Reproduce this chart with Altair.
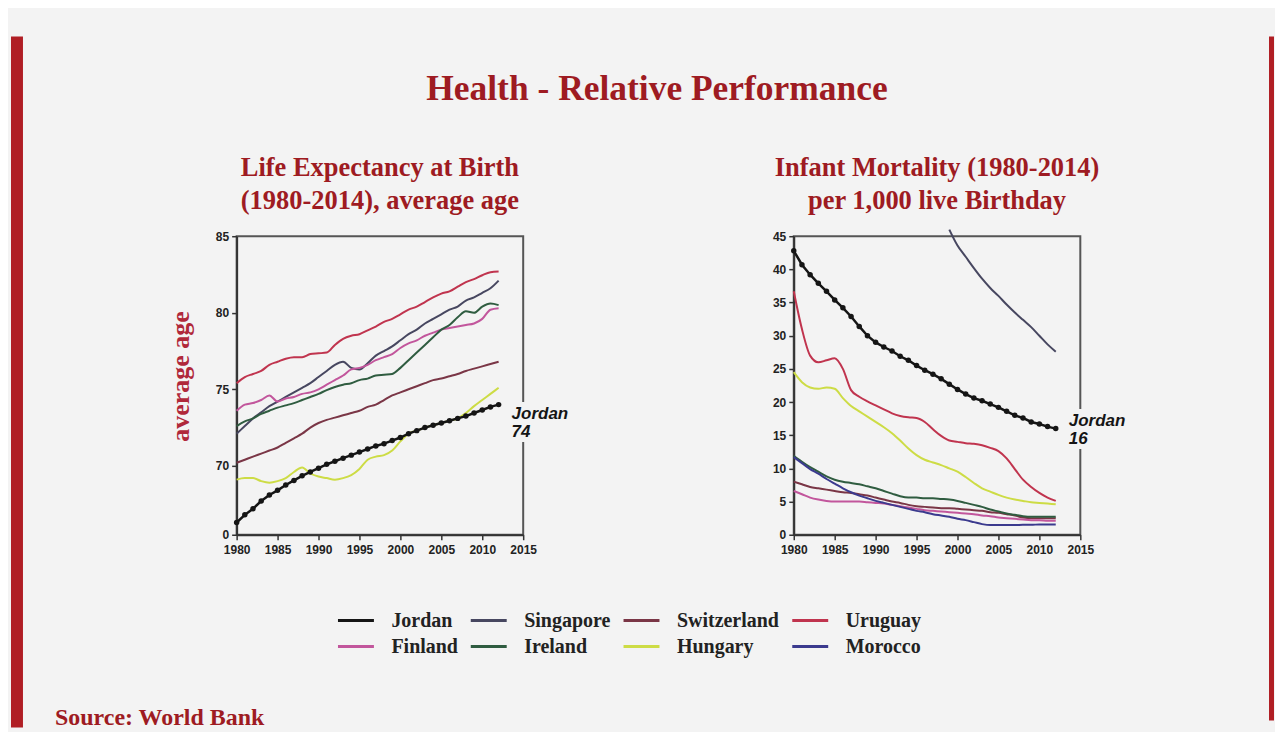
import altair as alt
import pandas as pd

# ---------------------------------------------------------------- data
years = list(range(1980, 2013))

# Lines are named by the legend colour in which they are drawn in the picture.
# Life expectancy at birth (left panel)
life_jordan = [66.3, 66.8, 67.2, 67.7, 68.1, 68.4, 68.75, 69.05, 69.35, 69.6, 69.85, 70.1, 70.3,
               70.5, 70.7, 70.9, 71.1, 71.3, 71.45, 71.65, 71.85, 72.1, 72.3, 72.5, 72.65, 72.8,
               72.95, 73.1, 73.25, 73.45, 73.65, 73.85, 74.0]
life_uruguay = [75.4, 75.8, 76.0, 76.2, 76.6, 76.8, 77.0, 77.1, 77.1, 77.3, 77.35, 77.4, 77.9,
                78.3, 78.5, 78.6, 78.85, 79.1, 79.4, 79.6, 79.9, 80.2, 80.4, 80.7, 81.0, 81.25,
                81.4, 81.7, 82.0, 82.2, 82.45, 82.65, 82.7]
life_singapore = [72.1, 72.6, 73.1, 73.5, 73.9, 74.2, 74.5, 74.8, 75.1, 75.4, 75.8, 76.2, 76.6,
                  76.8, 76.4, 76.3, 76.7, 77.2, 77.5, 77.8, 78.2, 78.6, 78.9, 79.3, 79.6, 79.9,
                  80.2, 80.4, 80.8, 81.0, 81.3, 81.6, 82.1]
life_finland = [73.6, 74.0, 74.1, 74.3, 74.6, 74.2, 74.4, 74.5, 74.7, 74.8, 75.0, 75.3, 75.6,
                75.9, 76.3, 76.4, 76.6, 76.9, 77.1, 77.3, 77.7, 78.0, 78.2, 78.5, 78.7, 78.9,
                79.0, 79.1, 79.2, 79.3, 79.6, 80.2, 80.3]
life_ireland = [72.6, 72.9, 73.1, 73.4, 73.6, 73.8, 73.95, 74.1, 74.3, 74.5, 74.7, 74.95, 75.15,
                75.3, 75.4, 75.6, 75.7, 75.9, 75.95, 76.0, 76.4, 76.9, 77.4, 77.9, 78.4, 78.9,
                79.2, 79.7, 80.1, 80.0, 80.4, 80.6, 80.5]
life_switzerland = [70.2, 70.4, 70.6, 70.8, 71.0, 71.2, 71.5, 71.8, 72.1, 72.5, 72.8, 73.0, 73.15,
                    73.3, 73.45, 73.6, 73.85, 74.0, 74.3, 74.6, 74.8, 75.0, 75.2, 75.4, 75.6,
                    75.7, 75.85, 76.0, 76.2, 76.35, 76.5, 76.65, 76.8]
# 2001-2007 runs underneath the Jordan line in the picture
life_hungary = [69.1, 69.2, 69.2, 69.0, 68.9, 69.0, 69.2, 69.6, 69.9, 69.5, 69.3, 69.2, 69.1,
                69.2, 69.4, 69.8, 70.4, 70.6, 70.7, 71.0, 71.6, 72.1, 72.3, 72.5, 72.65, 72.8,
                72.95, 73.1, 73.45, 73.9, 74.3, 74.7, 75.1]

# Infant mortality per 1,000 (right panel)
imr_jordan = [42.8, 40.7, 39.2, 37.9, 36.7, 35.4, 34.2, 32.9, 31.4, 30.0, 29.0, 28.3, 27.7,
              26.9, 26.3, 25.5, 24.8, 24.2, 23.5, 22.7, 21.9, 21.2, 20.6, 20.2, 19.7, 19.2,
              18.6, 18.0, 17.6, 17.0, 16.7, 16.3, 16.0]
imr_uruguay = [36.7, 31.0, 27.0, 26.0, 26.3, 26.6, 25.0, 21.8, 20.8, 20.1, 19.5, 18.9, 18.3,
               17.9, 17.7, 17.6, 17.0, 15.9, 14.9, 14.2, 14.0, 13.8, 13.7, 13.5, 13.1, 12.6,
               11.5, 9.9, 8.3, 7.2, 6.3, 5.6, 5.1]
imr_hungary = [24.5, 23.0, 22.2, 22.0, 22.2, 22.0, 20.6, 19.4, 18.6, 17.8, 17.0, 16.2, 15.3,
               14.2, 13.0, 12.0, 11.3, 10.9, 10.5, 10.0, 9.5, 8.7, 7.8, 7.0, 6.5, 6.0, 5.6,
               5.3, 5.1, 4.9, 4.8, 4.7, 4.6]
imr_ireland = [11.9, 11.0, 10.2, 9.5, 8.8, 8.3, 8.0, 7.8, 7.6, 7.3, 7.0, 6.6, 6.2, 5.8, 5.6,
               5.6, 5.5, 5.5, 5.4, 5.3, 5.1, 4.8, 4.5, 4.2, 3.8, 3.5, 3.2, 3.0, 2.8, 2.7, 2.7,
               2.7, 2.7]
imr_morocco = [11.7, 10.8, 9.9, 9.2, 8.4, 7.7, 7.0, 6.4, 5.9, 5.5, 5.1, 4.8, 4.5, 4.2, 3.9,
               3.6, 3.4, 3.1, 2.9, 2.7, 2.4, 2.2, 1.9, 1.6, 1.45, 1.45, 1.45, 1.45, 1.5, 1.5,
               1.55, 1.55, 1.55]
imr_switzerland = [8.0, 7.6, 7.2, 7.0, 6.8, 6.6, 6.4, 6.3, 6.1, 5.9, 5.6, 5.3, 5.0, 4.8, 4.5,
                   4.3, 4.2, 4.1, 4.0, 4.0, 3.9, 3.8, 3.7, 3.6, 3.4, 3.3, 3.1, 2.9, 2.6, 2.5,
                   2.5, 2.5, 2.5]
imr_finland = [6.6, 6.1, 5.6, 5.3, 5.1, 5.0, 5.0, 5.0, 5.0, 4.9, 4.8, 4.7, 4.5, 4.3, 4.1, 3.9,
               3.7, 3.6, 3.5, 3.4, 3.3, 3.2, 3.1, 2.9, 2.8, 2.6, 2.5, 2.4, 2.3, 2.2, 2.2, 2.1, 2.1]
imr_singapore_years = list(range(1999, 2013))
imr_singapore = [46.0, 43.6, 41.9, 40.2, 38.6, 37.2, 36.0, 34.7, 33.5, 32.4, 31.3, 30.0, 28.7, 27.6]

legend_names = ["Jordan", "Singapore", "Switzerland", "Uruguay",
                "Finland", "Ireland", "Hungary", "Morocco"]
legend_colors = ["#151515", "#474760", "#7a3646", "#c0344e",
                 "#c2569c", "#2f5c40", "#cddc45", "#3b3a8e"]

x_ticks = [1980, 1985, 1990, 1995, 2000, 2005, 2010, 2015]
life_ticks = [65.5, 70, 75, 80, 85]
imr_ticks = [0, 5, 10, 15, 20, 25, 30, 35, 40, 45]

main_title = "Health - Relative Performance"
left_title = ["Life Expectancy at Birth", "(1980-2014), average age"]
right_title = ["Infant Mortality (1980-2014)", "per 1,000 live Birthday"]
left_axis_title = "average age"
source_text = "Source: World Bank"

# ---------------------------------------------------------------- frames
def long_frame(series):
    rows = []
    for name, (xs, vals) in series.items():
        for x, v in zip(xs, vals):
            rows.append({"country": name, "year": x, "value": v})
    return pd.DataFrame(rows)

life_df = long_frame({
    "Uruguay": (years, life_uruguay),
    "Singapore": (years, life_singapore),
    "Finland": (years, life_finland),
    "Ireland": (years, life_ireland),
    "Switzerland": (years, life_switzerland),
    "Hungary": (years, life_hungary),
})
life_jordan_df = long_frame({"Jordan": (years, life_jordan)})

imr_df = long_frame({
    "Singapore": (imr_singapore_years, imr_singapore),
    "Uruguay": (years, imr_uruguay),
    "Hungary": (years, imr_hungary),
    "Switzerland": (years, imr_switzerland),
    "Finland": (years, imr_finland),
    "Ireland": (years, imr_ireland),
    "Morocco": (years, imr_morocco),
})
imr_jordan_df = long_frame({"Jordan": (years, imr_jordan)})


def last_label(df):
    last = df.iloc[[-1]].copy()
    last["label"] = "Jordan\n" + str(int(round(last["value"].iloc[0])))
    return last

# ---------------------------------------------------------------- styling
BG = "#f3f3f3"
DARK_RED = "#9e1b22"
SERIF = "Liberation Serif"
SANS = "Liberation Sans"

color_scale = alt.Scale(domain=legend_names, range=legend_colors)
legend = alt.Legend(
    title=None, orient="none", legendX=100, legendY=374, columns=4, direction="horizontal",
    symbolType="stroke", symbolSize=1296, symbolStrokeWidth=3, clipHeight=22,
    rowPadding=4, columnPadding=11, labelOffset=16,
    labelFont=SERIF, labelFontSize=20, labelFontWeight="bold", labelColor="#222",
)

axis_common = dict(
    grid=False, domainColor="#333", domainWidth=2, tickColor="#333", tickWidth=1.5,
    tickSize=5, labelFont=SANS, labelFontWeight="bold", labelFontSize=12,
    labelColor="#222", labelFlush=False,
)
x_axis = alt.Axis(values=x_ticks, format="d", title=None, labelPadding=5, **axis_common)
x_enc = alt.X("year:Q", scale=alt.Scale(domain=[1980, 2015], nice=False, zero=False), axis=x_axis)


def build(others, jordan, y_scale, y_axis, title, dy, title_offset):
    y_enc = alt.Y("value:Q", scale=y_scale, axis=y_axis)
    col = alt.Color("country:N", scale=color_scale, legend=legend)
    lines = alt.Chart(others).mark_line(interpolate="monotone", strokeWidth=2).encode(
        x=x_enc, y=y_enc, color=col, detail="country:N")
    jline = alt.Chart(jordan).mark_line(
        strokeWidth=2.5,
        point=alt.OverlayMarkDef(filled=True, size=30, color="#151515"),
    ).encode(x=x_enc, y=y_enc, color=col)
    lab = last_label(jordan)
    ts = dict(align="left", baseline="middle", lineBreak="\n", font=SANS,
              fontStyle="italic", fontWeight="bold", fontSize=17, lineHeight=18,
              dx=13, dy=dy)
    halo = alt.Chart(lab).mark_text(stroke=BG, strokeWidth=10, color=BG, **ts).encode(
        x=x_enc, y=y_enc, text="label:N")
    txt = alt.Chart(lab).mark_text(color="#151515", **ts).encode(
        x=x_enc, y=y_enc, text="label:N")
    return alt.layer(lines, jline, halo, txt).properties(
        width=287, height=299,
        title=alt.TitleParams(text=title, font=SERIF, fontSize=26.5, fontWeight="bold",
                              color=DARK_RED, anchor="middle", frame="group",
                              lineHeight=33, offset=title_offset),
        view=alt.ViewBackground(stroke="#555", strokeWidth=2),
    )


left_axis = alt.Axis(
    values=life_ticks, labelExpr="datum.value < 66 ? '0' : datum.label",
    title=left_axis_title, titleFont=SERIF, titleFontSize=26, titleFontWeight="bold",
    titleColor="#b0283a", titleAngle=270, titleX=-48, titleY=140,
    titleBaseline="alphabetic", titleAlign="center", labelPadding=3, **axis_common)
right_axis = alt.Axis(values=imr_ticks, title=None, labelPadding=3, **axis_common)

left = build(life_df, life_jordan_df,
             alt.Scale(domain=[65.5, 85], nice=False, zero=False), left_axis, left_title, 9, 16)
right = build(imr_df, imr_jordan_df,
              alt.Scale(domain=[0, 45], nice=False, zero=False), right_axis, right_title, -8, 11)

# ---------------------------------------------------------------- decoration panel
one = pd.DataFrame({"k": [0]})
bar_l = alt.Chart(one).mark_rect(color="#b01e24").encode(
    x=alt.value(-648), x2=alt.value(-636), y=alt.value(-200), y2=alt.value(492))
bar_r = alt.Chart(one).mark_rect(color="#b01e24").encode(
    x=alt.value(612), x2=alt.value(617), y=alt.value(-200), y2=alt.value(485))
title_mark = alt.Chart(pd.DataFrame({"t": [main_title]})).mark_text(
    font=SERIF, fontSize=35.5, fontWeight="bold", color=DARK_RED, align="center",
    baseline="middle").encode(text="t:N", x=alt.value(-1), y=alt.value(-147))
source_mark = alt.Chart(pd.DataFrame({"t": [source_text]})).mark_text(
    font=SERIF, fontSize=24, fontWeight="bold", color=DARK_RED, align="left",
    baseline="middle").encode(text="t:N", x=alt.value(-604), y=alt.value(483))
deco = alt.layer(bar_l, bar_r, title_mark, source_mark).properties(
    width=1, height=1, view=alt.ViewBackground(stroke="transparent"))

chart = alt.hconcat(left, deco, right, spacing=135, bounds="flush").properties(
    background=BG,
    padding={"left": 2, "top": 27, "right": 0, "bottom": 0},
).resolve_scale(color="shared")

chart.save("out.html", embed_options={"renderer": "svg", "actions": False})
